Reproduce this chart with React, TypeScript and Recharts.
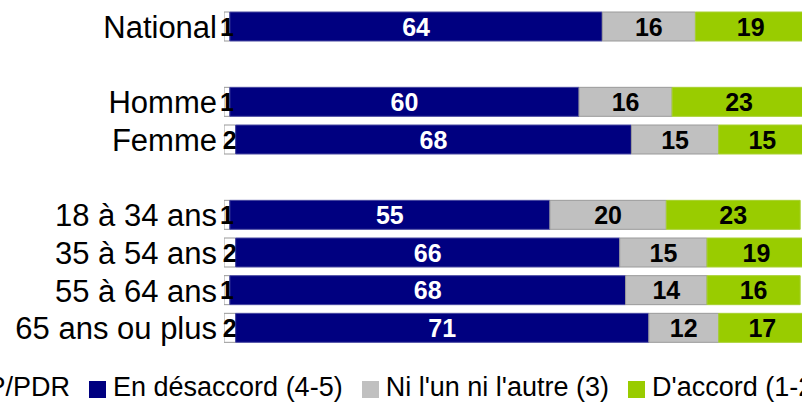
import React from 'react';
import { BarChart, Bar, XAxis, YAxis, Legend, LabelList } from 'recharts';

const categories = ['National', ' ', 'Homme', 'Femme', '  ', '18 à 34 ans', '35 à 54 ans', '55 à 64 ans', '65 ans ou plus'];
const nsp = [1, null, 1, 2, null, 1, 2, 1, 2];
const desaccord = [64, null, 60, 68, null, 55, 66, 68, 71];
const neutre = [16, null, 16, 15, null, 20, 15, 14, 12];
const accord = [19, null, 23, 15, null, 23, 19, 16, 17];

const seriesNames = ['NSP/PDR', 'En désaccord (4-5)', "Ni l'un ni l'autre (3)", "D'accord (1-2)"];
const seriesColors = ['#FFFFFF', '#000080', '#C0C0C0', '#99CC00'];
const seriesStrokes = ['#999999', '#4848a0', '#9a9a9a', '#a8d030'];
const labelColors = ['#000000', '#FFFFFF', '#000000', '#000000'];

const data = categories.map((name, i) => ({
  name,
  nsp: nsp[i],
  desaccord: desaccord[i],
  neutre: neutre[i],
  accord: accord[i],
}));

const FONT = '"Liberation Sans", Arial, Helvetica, sans-serif';
const keys = ['nsp', 'desaccord', 'neutre', 'accord'];

const makeLabel = (color: string) => (props: any) => {
  const { x, y, width, height, value } = props;
  if (value === null || value === undefined) return null;
  return (
    <text
      x={Number(x) + Number(width) / 2}
      y={Number(y) + Number(height) / 2}
      dy="0.36em"
      textAnchor="middle"
      fill={color}
      fontFamily={FONT}
      fontWeight="bold"
      fontSize={25}
    >
      {value}
    </text>
  );
};

const renderLegend = () => (
  <div
    style={{
      display: 'flex',
      alignItems: 'center',
      fontFamily: FONT,
      fontSize: 27,
      lineHeight: '30px',
      whiteSpace: 'nowrap',
      color: '#000',
    }}
  >
    {seriesNames.map((n, i) => (
      <div key={n} style={{ display: 'flex', alignItems: 'center', marginRight: i < seriesNames.length - 1 ? 19 : 0 }}>
        <span
          style={{
            display: 'inline-block',
            width: 17,
            height: 17,
            boxSizing: 'border-box',
            background: seriesColors[i],
            border: i === 0 ? '1px solid #999' : 'none',
            marginRight: 7,
            position: 'relative',
            top: 2,
          }}
        />
        <span>{n}</span>
      </div>
    ))}
  </div>
);

export default function App() {
  return (
    <div style={{ position: 'absolute', left: 0, top: 0, width: 802, height: 404, overflow: 'hidden', background: '#fff' }}>
      <BarChart
        width={806}
        height={404}
        layout="vertical"
        data={data}
        margin={{ top: 8, right: 0, left: 0, bottom: 27 }}
        barSize={29}
      >
        <XAxis type="number" domain={[0, 100]} allowDataOverflow hide />
        <YAxis
          type="category"
          dataKey="name"
          width={224}
          axisLine={false}
          tickLine={false}
          tickMargin={1}
          interval={0}
          tick={{ fontSize: 31, fill: '#000', fontFamily: FONT }}
        />
        {keys.map((k, i) => (
          <Bar
            key={k}
            dataKey={k}
            name={seriesNames[i]}
            stackId="a"
            fill={seriesColors[i]}
            stroke={seriesStrokes[i]}
            strokeWidth={1}
            isAnimationActive={false}
          >
            <LabelList dataKey={k} content={makeLabel(labelColors[i])} />
          </Bar>
        ))}
        <Legend
          verticalAlign="bottom"
          height={30}
          wrapperStyle={{ left: -74, top: 372, bottom: 'auto', width: 1100 }}
          content={renderLegend}
        />
      </BarChart>
    </div>
  );
}
